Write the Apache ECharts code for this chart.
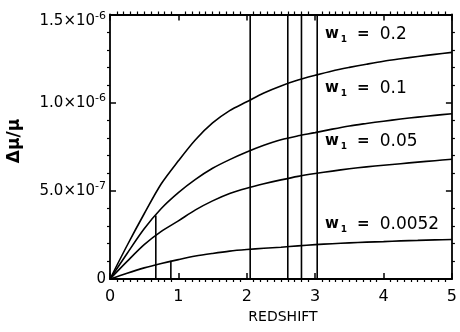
<!DOCTYPE html>
<html>
<head>
<meta charset="utf-8">
<script src="https://cdn.jsdelivr.net/npm/echarts@6/dist/echarts.min.js"></script>
<style>
  html, body { margin: 0; padding: 0; background: #fff; }
  #chart { width: 460px; height: 332px; }
</style>
</head>
<body>
<div id="chart"></div>
<script>
// Redshift sample points shared by every curve
const redshift = [0, 0.25, 0.5, 0.75, 1, 1.25, 1.5, 1.75, 2, 2.25, 2.5, 2.75, 3, 3.25, 3.5, 3.75, 4, 4.25, 4.5, 4.75, 5];
// Δμ/μ in units of 1e-6 for each w1 value
const dmu_w0_2    = [0, 0.19, 0.37, 0.54, 0.67, 0.79, 0.885, 0.955, 1.005, 1.055, 1.095, 1.128, 1.155, 1.18, 1.20, 1.218, 1.235, 1.249, 1.262, 1.274, 1.285];
const dmu_w0_1    = [0, 0.145, 0.285, 0.40, 0.49, 0.565, 0.628, 0.677, 0.72, 0.758, 0.79, 0.812, 0.83, 0.85, 0.868, 0.882, 0.895, 0.907, 0.918, 0.928, 0.937];
const dmu_w0_05   = [0, 0.10, 0.195, 0.27, 0.33, 0.392, 0.443, 0.485, 0.515, 0.54, 0.562, 0.582, 0.598, 0.612, 0.625, 0.636, 0.645, 0.654, 0.663, 0.671, 0.679];
const dmu_w0_0052 = [0, 0.033, 0.063, 0.088, 0.11, 0.13, 0.145, 0.158, 0.167, 0.174, 0.18, 0.188, 0.195, 0.20, 0.205, 0.209, 0.212, 0.216, 0.219, 0.222, 0.224];
const UNIT = 1e-6;

// Curve labels
const curveLabels = ['0.2', '0.1', '0.05', '0.0052'];

// Observed absorber redshifts: full-height markers and short markers (height in 1e-6)
const fullMarkers = [2.05, 2.6, 2.8, 3.03];
const shortMarkers = [[0.67, 0.36], [0.89, 0.104]];

// Axis ticks
const xTicks = [0, 1, 2, 3, 4, 5];
const yTicks = [0, 5e-7, 1e-6, 1.5e-6];
const yTickMant = ['0', '5.0\u00d710', '1.0\u00d710', '1.5\u00d710'];
const yTickExp = ['', '-7', '-6', '-6'];
const Y_MAX = 1.5e-6;

const FONT = '"DejaVu Sans", "Liberation Sans", sans-serif';

function pairs(ys) {
  return redshift.map((x, i) => [x, ys[i] * UNIT]);
}

const curveStyle = { color: '#000', width: 1.6 };
const markerStyle = { color: '#000', width: 1.6 };

const series = [dmu_w0_2, dmu_w0_1, dmu_w0_05, dmu_w0_0052].map(ys => ({
  type: 'line',
  data: pairs(ys),
  smooth: 0.3,
  showSymbol: false,
  lineStyle: curveStyle,
  silent: true,
  z: 3
}));

fullMarkers.forEach(x => {
  series.push({
    type: 'line', data: [[x, 0], [x, Y_MAX]], showSymbol: false,
    lineStyle: markerStyle, silent: true, z: 2
  });
});
shortMarkers.forEach(([x, h]) => {
  series.push({
    type: 'line', data: [[x, 0], [x, h * UNIT]], showSymbol: false,
    lineStyle: markerStyle, silent: true, z: 2
  });
});

const axisLineStyle = { show: true, onZero: false, lineStyle: { color: '#000', width: 1.8 } };
const majorTick = { show: true, inside: true, length: 6, lineStyle: { color: '#000', width: 1.5 } };
// minor ticks are drawn toward the plot area (negative length flips them inward)
const minorTickX = { show: true, splitNumber: 10, length: -3, lineStyle: { color: '#000', width: 1.2 } };
const minorTickY = { show: true, splitNumber: 5, length: -3, lineStyle: { color: '#000', width: 1.2 } };

// Frame axis: line, inward major and minor ticks
function frameAxis(base, pos, minor, extra) {
  return Object.assign({
    type: 'value', position: pos,
    axisLine: axisLineStyle, axisTick: majorTick, minorTick: minor,
    splitLine: { show: false }, minorSplitLine: { show: false },
    axisLabel: { show: false }
  }, base, extra || {});
}

function yLabel(v) {
  const i = yTicks.findIndex(t => Math.abs(t - v) < 1e-12);
  if (i < 0) return '';
  if (i === 0) return '{m|' + yTickMant[0] + '}';
  if (i === yTicks.length - 1) return '{mt|' + yTickMant[i] + '}{et|' + yTickExp[i] + '}';
  return '{m|' + yTickMant[i] + '}{e|' + yTickExp[i] + '}';
}

// Curve label builder: bold w with subscript 1, then "= value"
const labelTops = [36, 90, 143, 226];
const graphics = curveLabels.map((val, i) => ({
  type: 'text',
  left: 325,
  top: labelTops[i] - 10,
  style: {
    text: '{w|w}{s|1}{q|=}{v|' + val + '}',
    rich: {
      w: { fontFamily: FONT, fontWeight: 'bold', fontSize: 15, fill: '#000', lineHeight: 20 },
      s: { fontFamily: FONT, fontWeight: 'bold', fontSize: 9, fill: '#000', lineHeight: 9, padding: [8, 0, 0, 2], verticalAlign: 'bottom' },
      q: { fontFamily: FONT, fontWeight: 'bold', fontSize: 15, fill: '#000', padding: [0, 10, 0, 10], lineHeight: 20 },
      v: { fontFamily: FONT, fontSize: 17, fill: '#000', lineHeight: 20 }
    }
  },
  silent: true
}));

graphics.push({
  type: 'text',
  x: 283, y: 317,
  style: { text: 'REDSHIFT', fontFamily: FONT, fontSize: 14, fill: '#000', align: 'center', verticalAlign: 'middle' },
  silent: true
});
graphics.push({
  type: 'text',
  x: 15, y: 141,
  rotation: Math.PI / 2,
  style: { text: '\u0394\u03bc/\u03bc', fontFamily: FONT, fontWeight: 'bold', fontSize: 17, fill: '#000', align: 'center', verticalAlign: 'middle' },
  silent: true
});

const xBase = { min: 0, max: 5, interval: 1 };
const yBase = { min: 0, max: Y_MAX, interval: 5e-7 };

const option = {
  animation: false,
  backgroundColor: '#fff',
  grid: { left: 110, right: 3, top: 5, bottom: 53, containLabel: false },
  xAxis: [
    frameAxis(xBase, 'bottom', minorTickX, {
      axisLabel: {
        show: true, margin: 10, fontFamily: FONT, fontSize: 16, color: '#000',
        formatter: v => xTicks.includes(v) ? String(v) : ''
      }
    }),
    frameAxis(xBase, 'top', minorTickX)
  ],
  yAxis: [
    frameAxis(yBase, 'left', minorTickY, {
      axisLabel: {
        show: true, margin: 4, color: '#000', formatter: yLabel,
        rich: {
          m: { fontFamily: FONT, fontSize: 15, color: '#000', lineHeight: 15 },
          e: { fontFamily: FONT, fontSize: 11, color: '#000', lineHeight: 11, padding: [0, 0, 10, 0] },
          mt: { fontFamily: FONT, fontSize: 15, color: '#000', lineHeight: 15, padding: [14, 0, 0, 0] },
          et: { fontFamily: FONT, fontSize: 11, color: '#000', lineHeight: 11, padding: [4, 0, 0, 0] }
        }
      }
    }),
    frameAxis(yBase, 'right', minorTickY)
  ],
  series: series,
  graphic: graphics
};

const chart = echarts.init(document.getElementById('chart'), null, { renderer: 'canvas' });
chart.setOption(option);
</script>
</body>
</html>
